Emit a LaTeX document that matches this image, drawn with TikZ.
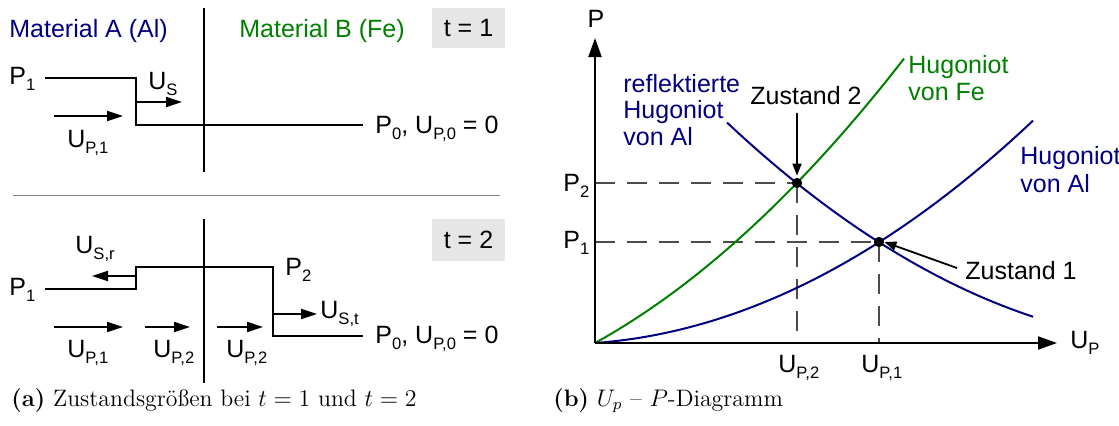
\documentclass[tikz,border=0pt]{standalone}
\usepackage{fontspec}
\newfontfamily\arialf{Liberation Sans}
\usetikzlibrary{arrows.meta}
\definecolor{navy}{RGB}{0,0,128}
\definecolor{fegreen}{RGB}{0,128,0}
\definecolor{boxgray}{RGB}{230,230,230}
\definecolor{sepgray}{RGB}{130,130,130}
\newcommand{\sbs}[1]{\raisebox{-3.2pt}{\fontsize{8.3}{9}\selectfont #1}}
\begin{document}
\begin{tikzpicture}[x=0.5pt,y=-0.5pt,
  lbl/.style={font=\arialf\fontsize{12.5}{14}\selectfont, inner sep=0pt, anchor=base west},
  clbl/.style={lbl, anchor=base},
  captxt/.style={font=\fontsize{11.9}{14}\selectfont, inner sep=0pt, anchor=base west},
  tbox/.style={font=\arialf\fontsize{12.5}{14}\selectfont, fill=boxgray, inner sep=0pt,
               minimum width=36.5pt},
  wall/.style={line width=1pt},
  front/.style={line width=1pt, line join=miter},
  arr/.style={line width=1pt, -{Triangle[length=8pt,width=5pt]}},
  axis/.style={line width=1pt, -{Triangle[length=9.5pt,width=6.5pt]}},
  guide/.style={line width=0.65pt, black!70, dash pattern=on 10pt off 6pt},
  pointer/.style={line width=0.9pt, -{Triangle[length=6pt,width=4.5pt]}},
  curve/.style={line width=1pt},
  dot/.style={circle, fill=black, inner sep=0pt, minimum size=5pt}]
\useasboundingbox (0,0) rectangle (1119,425);

% ---------------- left panel, t = 1 ----------------
\node[lbl, text=navy] (matA) at (9,37) {Material A (Al)};
\node[lbl, text=fegreen] (matB) at (239,37) {Material B (Fe)};
\node[tbox, minimum height=20pt] (box1) at (468.5,28) {t = 1};
\draw[wall] (204,8) -- (204,172);
\node[lbl] (p1a) at (9,84) {P\sbs{1}};
\draw[front] (45,78) -- (136,78) -- (136,125) -- (363,125);
\coordinate (usA) at (136,102);
\coordinate (usB) at (182,102);
\draw[arr] (usA) -- (usB);
\node[lbl] (us) at (148,89) {U\sbs{S}};
\coordinate (upA) at (54,116);
\coordinate (upB) at (123,116);
\draw[arr] (upA) -- (upB);
\node[lbl] (up1a) at (67,147) {U\sbs{P,1}};
\node[lbl] (p0a) at (375,133) {P\sbs{0}, U\sbs{P,0} = 0};

% separator
\draw[sepgray, line width=0.7pt] (13,195.5) -- (500,195.5);

% ---------------- left panel, t = 2 ----------------
\node[tbox, minimum height=21pt] (box2) at (468.5,240) {t = 2};
\draw[wall] (204,219) -- (204,383);
\draw[front] (45,289) -- (136,289) -- (136,267) -- (273,267) -- (273,336) -- (363,336);
\node[lbl] (p1b) at (9,295) {P\sbs{1}};
\node[lbl] (p2) at (285,275) {P\sbs{2}};
\coordinate (usrA) at (136,276);
\coordinate (usrB) at (92,276);
\draw[arr] (usrA) -- (usrB);
\node[lbl] (usr) at (75,253) {U\sbs{S,r}};
\coordinate (ustA) at (273,314);
\coordinate (ustB) at (317,314);
\draw[arr] (ustA) -- (ustB);
\node[lbl] (ust) at (320,318) {U\sbs{S,t}};
\coordinate (a1A) at (54,327);  \coordinate (a1B) at (123,327);
\coordinate (a2A) at (145,327); \coordinate (a2B) at (190,327);
\coordinate (a3A) at (217,327); \coordinate (a3B) at (263,327);
\draw[arr] (a1A) -- (a1B);
\draw[arr] (a2A) -- (a2B);
\draw[arr] (a3A) -- (a3B);
\node[lbl] (up1b) at (67,357) {U\sbs{P,1}};
\node[lbl] (up2b) at (153,357) {U\sbs{P,2}};
\node[lbl] (up2c) at (226,357) {U\sbs{P,2}};
\node[lbl] (p0b) at (375,343) {P\sbs{0}, U\sbs{P,0} = 0};

\node[captxt] (capA) at (11,406) {\textbf{(a)} Zustandsgrößen bei $t=1$ und $t=2$};

% ---------------- right panel ----------------
\coordinate (O) at (595,343);
\coordinate (Ptip) at (595,38);
\coordinate (Utip) at (1057,343);
\node[dot] (d2) at (797,183) {};
\node[dot] (d1) at (879,242) {};

\draw[guide] (O |- d2) -- (d2.center);
\draw[guide] (O |- d1) -- (d1.center);
\draw[guide] (d2.center) -- (d2 |- O);
\draw[guide] (d1.center) -- (d1 |- O);

\draw[curve, fegreen] plot[domain=0:309, samples=80, smooth]
  ({595+\x},{343-(0.5526*\x+0.001186*\x*\x)});
\draw[curve, navy] plot[domain=0:438, samples=80, smooth]
  ({595+\x},{343-(0.07327*\x+0.0009943*\x*\x)});
\draw[curve, navy] plot[domain=132:438, samples=80, smooth]
  ({595+\x},{343-(0.07327*(568-\x)+0.0009943*(568-\x)*(568-\x))});

\draw[axis] (O) -- (Ptip);
\draw[axis] (O) -- (Utip);

\node[dot] at (d2) {};
\node[dot] at (d1) {};

\node[clbl] (plab) at (596,27) {P};
\node[lbl] (ulab) at (1070,348) {U\sbs{P}};
\node[lbl] (p2lab) at (563,191) {P\sbs{2}};
\node[lbl] (p1lab) at (563,248) {P\sbs{1}};
\node[lbl] (up2lab) at (778,372) {U\sbs{P,2}};
\node[lbl] (up1lab) at (861,372) {U\sbs{P,1}};

\node[lbl] (z2) at (750,104) {Zustand 2};
\draw[pointer] (d2 |- z2.south) ++(0,8) -- ([yshift=1pt]d2.north);
\node[lbl] (z1) at (965,279) {Zustand 1};
\coordinate (z1start) at (957,268);
\draw[pointer] (z1start) -- (d1.east);

\node[lbl, text=navy] (refl1) at (623,92) {reflektierte};
\node[lbl, text=navy] (refl2) at (623,118) {Hugoniot};
\node[lbl, text=navy] (refl3) at (623,145) {von Al};
\node[lbl, text=fegreen] (hfe1) at (908,73) {Hugoniot};
\node[lbl, text=fegreen] (hfe2) at (908,100) {von Fe};
\node[lbl, text=navy] (hal1) at (1020,164) {Hugoniot};
\node[lbl, text=navy] (hal2) at (1020,192) {von Al};

\node[captxt] (capB) at (553,406) {\textbf{(b)} $U_p$ -- $P$-Diagramm};
\end{tikzpicture}
\end{document}
